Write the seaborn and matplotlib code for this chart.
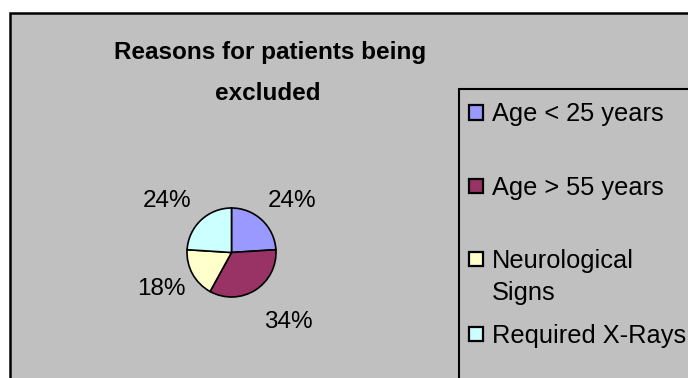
import matplotlib
matplotlib.use("Agg")
import matplotlib.pyplot as plt
from matplotlib.patches import Rectangle
import seaborn as sns

# Data
reasons = ["Age < 25 years", "Age > 55 years", "Neurological\nSigns", "Required X-Rays"]
shares = [24, 34, 18, 24]
slice_colors = ["#9999FF", "#993366", "#FFFFCC", "#CCFFFF"]
title_lines = ["Reasons for patients being", "excluded"]

sns.set_style("white")
plt.rcParams["font.family"] = ["Liberation Sans", "DejaVu Sans"]
palette = sns.color_palette(slice_colors)

W, H = 688, 378
fig = plt.figure(figsize=(W / 100, H / 100), dpi=100, facecolor="white")


def fx(x):
    return x / W


def fy(y):
    return 1 - y / H


# Chart area (gray panel with black frame), kept behind the pie axes
fig.patches.append(Rectangle((fx(9.5), fy(400)), fx(720) - fx(9.5), fy(13) - fy(400),
                             transform=fig.transFigure, facecolor="#C0C0C0",
                             edgecolor="black", linewidth=1.8, zorder=-2))

# Title
fig.text(fx(270), fy(59), title_lines[0], ha="center", va="baseline",
         fontsize=17.5, fontweight="bold", color="black")
fig.text(fx(268), fy(100), title_lines[1], ha="center", va="baseline",
         fontsize=17.5, fontweight="bold", color="black")

# Pie
cx, cy, r = 231.5, 252.5, 44.5
ax = fig.add_axes([fx(cx - r), fy(cy + r), (2 * r) / W, (2 * r) / H])
ax.set_zorder(1)
ax.patch.set_visible(False)
ax.set_axis_off()
wedges, texts = ax.pie(shares, colors=palette, startangle=90, counterclock=False,
                       labels=[f"{v}%" for v in shares], labeldistance=1.5,
                       wedgeprops=dict(edgecolor="black", linewidth=1.2),
                       textprops=dict(fontsize=17.5, color="black"))
ax.set_xlim(-1, 1)
ax.set_ylim(-1, 1)
ax.set_aspect("equal")

# Percentage label placement (in pie radius units, baseline-anchored)
label_pos = [(1.35, -1.03), (1.27, 1.70), (-1.57, 0.955), (-1.45, -1.03)]
for t, (lx, ly) in zip(texts, label_pos):
    t.set_position((lx, -ly))
    t.set_ha("center")
    t.set_va("baseline")
    t.set_clip_on(False)

# Legend box
fig.patches.append(Rectangle((fx(459), fy(400)), fx(720) - fx(459), fy(89) - fy(400),
                             transform=fig.transFigure, facecolor="#C0C0C0",
                             edgecolor="black", linewidth=1.5, zorder=-1))
entry_tops = [105.5, 179, 252, 327]
text_baselines = [120.7, 195, 268, 343]
line_gap = 32
box = 14
for name, col, top, base in zip(reasons, palette, entry_tops, text_baselines):
    fig.patches.append(Rectangle((fx(469), fy(top + box)), box / W, box / H,
                                 transform=fig.transFigure, facecolor=col,
                                 edgecolor="black", linewidth=1.6, zorder=2))
    for i, line in enumerate(name.split("\n")):
        fig.text(fx(492), fy(base + i * line_gap), line, ha="left", va="baseline",
                 fontsize=18.3, color="black", zorder=3)

fig.savefig("out.png", dpi=100, facecolor="white")
